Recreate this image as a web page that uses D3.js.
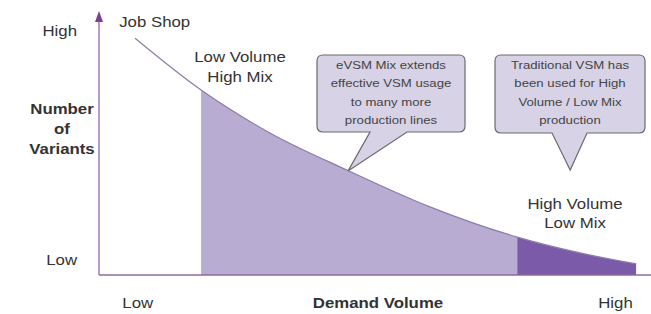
<!DOCTYPE html>
<html>
<head>
<meta charset="utf-8">
<script src="https://cdn.jsdelivr.net/npm/d3@7"></script>
<style>
  body { margin: 0; background: #fff; }
  svg { display: block; }
  text { font-family: "Liberation Sans", Arial, sans-serif; }
</style>
</head>
<body>
<div class="chart"></div>
<script>
// curve (demand volume 0-100 vs number of variants 0-100)
const demand   = [6.6, 18.7, 31.3, 45.4, 60.6, 76.6, 88.1, 98.4]
const variants = [90, 70.3, 54, 39.9, 25.9, 14.4, 8.4, 4.2]

// region borders on the demand axis
const lowMixStart = 18.7
const highVolStart = 76.6
const curveEnd = 98.4

const yTickVals = [92.8, 5.7]
const yTickLabels = ["High", "Low"]
const xTickVals = [7, 94.5]
const xTickLabels = ["Low", "High"]

const yTitle = ["Number", "of", "Variants"]
const xTitle = "Demand Volume"

const callout1Lines = ["eVSM Mix extends", "effective VSM usage", "to many more", "production lines"]
const callout2Lines = ["Traditional VSM has", "been used for High", "Volume / Low Mix", "production"]
const callout1Tip = [45.6, 39.5]
const callout2Tip = [86.3, 39.9]

var W = 651, H = 314
var margin = {left: 99, right: 6, top: 12, bottom: 39}

const svg = d3.select(".chart").append("svg")
  .attr("width", W)
  .attr("height", H)

const xs = d3.scaleLinear().domain([0, 100]).range([margin.left, W - margin.right])
const ys = d3.scaleLinear().domain([0, 100]).range([H - margin.bottom, margin.top])

const pts = demand.map((d, i) => ({x: d, y: variants[i]}))

// text is a bit wider than normal in the picture
const SX = 1.2
function label(g, x, y, str, anchor, size, weight, fill) {
  return g.append("text")
    .attr("transform", `translate(${x},${y}) scale(${SX},1)`)
    .attr("text-anchor", anchor)
    .style("font-size", size + "px")
    .style("font-weight", weight || "normal")
    .attr("fill", fill || "#333")
    .text(str)
}

// clip rects for the two regions
const defs = svg.append("defs")
defs.append("clipPath").attr("id", "clipLow")
  .append("rect")
  .attr("x", xs(lowMixStart)).attr("y", 0)
  .attr("width", xs(highVolStart) - xs(lowMixStart)).attr("height", H)
defs.append("clipPath").attr("id", "clipHigh")
  .append("rect")
  .attr("x", xs(highVolStart)).attr("y", 0)
  .attr("width", xs(curveEnd) - xs(highVolStart)).attr("height", H)

var area = d3.area()
  .x(d => xs(d.x))
  .y0(ys(0))
  .y1(d => ys(d.y))
  .curve(d3.curveMonotoneX)

var line = d3.line()
  .x(d => xs(d.x))
  .y(d => ys(d.y))
  .curve(d3.curveMonotoneX)

svg.append("path").attr("d", area(pts)).attr("fill", "#b8acd3").attr("clip-path", "url(#clipLow)")
svg.append("path").attr("d", area(pts)).attr("fill", "#7b5aa9").attr("clip-path", "url(#clipHigh)")

svg.append("path").attr("d", line(pts))
  .attr("fill", "none")
  .attr("stroke", "#8f7aa5")
  .attr("stroke-width", 1.2)

// axis lines
svg.append("line")
  .attr("x1", xs(0)).attr("x2", W)
  .attr("y1", ys(0)).attr("y2", ys(0))
  .attr("stroke", "#8e6b9e").attr("stroke-width", 1.5)
svg.append("line")
  .attr("x1", xs(0)).attr("x2", xs(0))
  .attr("y1", ys(0)).attr("y2", ys(100) + 8)
  .attr("stroke", "#a679b5").attr("stroke-width", 1.5)
svg.append("path")
  .attr("d", `M${xs(0)},${ys(100) - 1} L${xs(0) - 4},${ys(100) + 10} L${xs(0) + 4},${ys(100) + 10} Z`)
  .attr("fill", "#7b3f8f")

// tick labels with axes
const yAx = svg.append("g")
  .attr("transform", `translate(${xs(0)},0)`)
  .call(d3.axisLeft(ys).tickValues(yTickVals).tickFormat((d, i) => yTickLabels[i]).tickSize(0).tickPadding(22))
yAx.select(".domain").remove()
yAx.selectAll("text")
  .style("font-size", "14px").attr("fill", "#333")
  .attr("font-family", null)
  .attr("transform", `scale(${SX},1)`)
  .attr("x", -22 / SX)

const xAx = svg.append("g")
  .attr("transform", `translate(0,${ys(0)})`)
  .call(d3.axisBottom(xs).tickValues(xTickVals).tickFormat((d, i) => xTickLabels[i]).tickSize(0).tickPadding(23))
xAx.select(".domain").remove()
xAx.selectAll(".tick text")
  .style("font-size", "14px").attr("fill", "#333")
  .attr("font-family", null)
  .attr("transform", `scale(${SX},1)`)

// axis titles
yTitle.forEach((t, i) => label(svg, 62, 114 + i * 20, t, "middle", 14, "bold"))
label(svg, 378, 308, xTitle, "middle", 14, "bold")

// region labels
label(svg, xs(3.7), ys(94.3), "Job Shop", "start", 14)
label(svg, 240, 62, "Low Volume", "middle", 14)
label(svg, 240, 82, "High Mix", "middle", 14)
label(svg, 575, 209, "High Volume", "middle", 14)
label(svg, 575, 228, "Low Mix", "middle", 14)

// callouts
function calloutPath(x0, y0, x1, y1, r, b0, b1, tx, ty) {
  return `M${x0 + r},${y0} H${x1 - r} Q${x1},${y0} ${x1},${y0 + r} V${y1 - r} Q${x1},${y1} ${x1 - r},${y1}` +
    ` H${b1} L${tx},${ty} L${b0},${y1} H${x0 + r} Q${x0},${y1} ${x0},${y1 - r} V${y0 + r} Q${x0},${y0} ${x0 + r},${y0} Z`
}

var boxes = [
  {x0: 317, x1: 465, y0: 55, y1: 132, b0: 370, b1: 407, tip: callout1Tip, lines: callout1Lines},
  {x0: 495, x1: 645, y0: 55, y1: 133, b0: 552, b1: 587, tip: callout2Tip, lines: callout2Lines}
]

boxes.forEach(b => {
  svg.append("path")
    .attr("d", calloutPath(b.x0, b.y0, b.x1, b.y1, 6, b.b0, b.b1, xs(b.tip[0]), ys(b.tip[1])))
    .attr("fill", "#d7d2e6")
    .attr("stroke", "#6a6a70")
    .attr("stroke-width", 1.2)
  var cx = (b.x0 + b.x1) / 2
  b.lines.forEach((t, i) => label(svg, cx, 69 + i * 18.3, t, "middle", 11, "normal", "#444"))
})
</script>
</body>
</html>
